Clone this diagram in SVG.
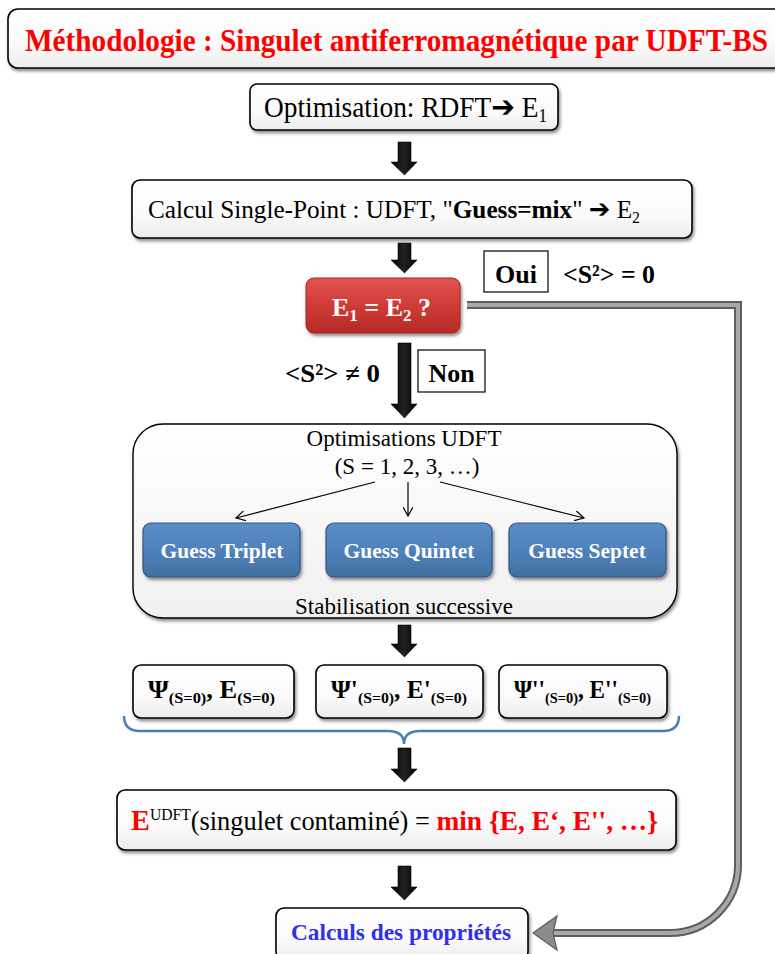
<svg xmlns="http://www.w3.org/2000/svg" width="775" height="954" viewBox="0 0 775 954">
<defs>
<linearGradient id="gW" x1="0" y1="0" x2="0" y2="1"><stop offset="0" stop-color="#ffffff"/><stop offset="0.6" stop-color="#fafafa"/><stop offset="1" stop-color="#ececec"/></linearGradient>
<linearGradient id="gBig" x1="0" y1="0" x2="0" y2="1"><stop offset="0" stop-color="#ffffff"/><stop offset="1" stop-color="#f0f0f0"/></linearGradient>
<linearGradient id="gRed" x1="0" y1="0" x2="0" y2="1"><stop offset="0" stop-color="#e25552"/><stop offset="0.5" stop-color="#cf3b36"/><stop offset="1" stop-color="#b52a26"/></linearGradient>
<linearGradient id="gBlue" x1="0" y1="0" x2="0" y2="1"><stop offset="0" stop-color="#5b8dc9"/><stop offset="0.5" stop-color="#4f81bd"/><stop offset="1" stop-color="#41709f"/></linearGradient>
<linearGradient id="gArr" x1="0" y1="0" x2="1" y2="0"><stop offset="0" stop-color="#000"/><stop offset="0.5" stop-color="#222"/><stop offset="1" stop-color="#000"/></linearGradient>
<filter id="sh" x="-10%" y="-20%" width="120%" height="150%"><feDropShadow dx="1.5" dy="2.5" stdDeviation="1.8" flood-color="#000" flood-opacity="0.45"/></filter>
<style>
.box{fill:url(#gW);stroke:#000;stroke-width:1.6;filter:url(#sh)}
.big{fill:url(#gBig);stroke:#000;stroke-width:1.4;filter:url(#sh)}
.blue{fill:url(#gBlue);stroke:#2f5683;stroke-width:1.2;filter:url(#sh)}
.red{fill:url(#gRed);stroke:#a52521;stroke-width:1;filter:url(#sh)}
.lab{fill:#fff;stroke:#000;stroke-width:1.2}
.blk{fill:url(#gArr);stroke:#000;stroke-width:0.6}
.t{font-family:"Liberation Serif","Times New Roman","DejaVu Serif",serif;fill:#000}
.b{font-weight:bold}
.ar{font-family:"DejaVu Sans",sans-serif;font-weight:bold}
.thin{stroke:#000;stroke-width:1.2;fill:none}
</style>
<marker id="open" viewBox="0 0 10 10" refX="9" refY="5" markerWidth="10" markerHeight="10" orient="auto" markerUnits="userSpaceOnUse"><path d="M0,0 L9,5 L0,10" fill="none" stroke="#000" stroke-width="1.2"/></marker>
</defs>

<g id="title">
<rect x="8" y="9" width="790" height="59" rx="10" class="box"/>
<text x="25" y="51" class="t b" font-size="31" textLength="743" lengthAdjust="spacingAndGlyphs" style="fill:#ff0000">Méthodologie : Singulet antiferromagnétique par UDFT-BS</text>
</g>

<g id="opt">
<rect x="250" y="84" width="308" height="46" rx="7" class="box"/>
<text x="264" y="117" class="t" font-size="29" textLength="283" lengthAdjust="spacingAndGlyphs">Optimisation: RDFT<tspan class="ar" font-size="30">➔</tspan> E<tspan font-size="18" dy="5">1</tspan></text>
</g>

<g id="single">
<rect x="132" y="180" width="560" height="58" rx="8" class="box"/>
<text x="148" y="218" class="t" font-size="25.5" textLength="492" lengthAdjust="spacingAndGlyphs">Calcul Single-Point : UDFT, "<tspan class="b">Guess=mix</tspan>" <tspan class="ar" font-size="26">➔</tspan> E<tspan font-size="16" dy="5">2</tspan></text>
</g>

<g id="decision">
<rect x="306" y="278" width="154" height="55" rx="8" class="red"/>
<text x="381.5" y="316" class="t b" font-size="26" text-anchor="middle" style="fill:#fff">E<tspan font-size="17" dy="5">1</tspan><tspan dy="-5"> = E</tspan><tspan font-size="17" dy="5">2</tspan><tspan dy="-5"> ?</tspan></text>
</g>

<g id="oui">
<rect x="484" y="251" width="64" height="41" class="lab"/>
<text x="516" y="283" class="t b" font-size="26" text-anchor="middle">Oui</text>
<text x="563" y="283" class="t b" font-size="26" textLength="92" lengthAdjust="spacingAndGlyphs">&lt;S²&gt; = 0</text>
</g>

<g id="non">
<rect x="418" y="350" width="67" height="42" class="lab"/>
<text x="451.5" y="382" class="t b" font-size="26" text-anchor="middle">Non</text>
<text x="285" y="382" class="t b" font-size="26" textLength="95" lengthAdjust="spacingAndGlyphs">&lt;S²&gt; ≠ 0</text>
</g>

<g id="optim">
<rect x="133" y="424" width="544" height="194" rx="30" class="big"/>
<text x="404" y="446" class="t" font-size="23" text-anchor="middle">Optimisations UDFT</text>
<text x="407" y="474" class="t" font-size="23" text-anchor="middle">(S = 1, 2, 3, …)</text>
<text x="404" y="614" class="t" font-size="23" text-anchor="middle">Stabilisation successive</text>
</g>

<g id="triplet">
<rect x="143" y="523" width="157" height="54" rx="8" class="blue"/>
<text x="222" y="558" class="t b" font-size="21.5" text-anchor="middle" style="fill:#fff">Guess Triplet</text>
</g>
<g id="quintet">
<rect x="326" y="523" width="166" height="54" rx="8" class="blue"/>
<text x="409" y="558" class="t b" font-size="21.5" text-anchor="middle" style="fill:#fff">Guess Quintet</text>
</g>
<g id="septet">
<rect x="509" y="523" width="157" height="54" rx="8" class="blue"/>
<text x="587" y="558" class="t b" font-size="21.5" text-anchor="middle" style="fill:#fff">Guess Septet</text>
</g>

<g id="psi0">
<rect x="133" y="665" width="161" height="53" rx="8" class="box"/>
<text x="148" y="698" class="t b" font-size="25" textLength="127" lengthAdjust="spacingAndGlyphs">Ψ<tspan font-size="15.5" dy="5">(S=0)</tspan><tspan dy="-5">, E</tspan><tspan font-size="15.5" dy="5">(S=0)</tspan></text>
</g>
<g id="psi1">
<rect x="316" y="665" width="167" height="53" rx="8" class="box"/>
<text x="331" y="698" class="t b" font-size="25" textLength="136" lengthAdjust="spacingAndGlyphs">Ψ'<tspan font-size="15.5" dy="5">(S=0)</tspan><tspan dy="-5">, E'</tspan><tspan font-size="15.5" dy="5">(S=0)</tspan></text>
</g>
<g id="psi2">
<rect x="499" y="665" width="168" height="53" rx="8" class="box"/>
<text x="514" y="698" class="t b" font-size="25" textLength="137" lengthAdjust="spacingAndGlyphs">Ψ''<tspan font-size="15.5" dy="5">(S=0)</tspan><tspan dy="-5">, E''</tspan><tspan font-size="15.5" dy="5">(S=0)</tspan></text>
</g>

<g id="brace">
<path d="M124,716 Q124,731 140,731 H388 Q404,731 404,744 Q404,731 420,731 H663 Q679,731 679,716" fill="none" stroke="#4a7ebb" stroke-width="2.5"/>
</g>

<g id="energy">
<rect x="117" y="790" width="559" height="60" rx="8" class="box"/>
<text x="131" y="830" class="t" font-size="27" textLength="527" lengthAdjust="spacingAndGlyphs"><tspan class="b" font-size="29" style="fill:#ff0000">E</tspan><tspan font-size="16" dy="-10">UDFT</tspan><tspan dy="10">(singulet contaminé) = </tspan><tspan class="b" font-size="28" style="fill:#ff0000">min {E, E‘, E'', …}</tspan></text>
</g>

<g id="props">
<rect x="276" y="908" width="252" height="52" rx="8" class="box"/>
<text x="291" y="940" class="t b" font-size="24" textLength="220" lengthAdjust="spacingAndGlyphs" style="fill:#3030f0">Calculs des propriétés</text>
</g>

<g id="connectors">
<path class="blk" d="M398,142 H411 V162 H417 L404.5,175 L391,162 H398 Z"/>
<path class="blk" d="M398,243 H411 V260 H417 L404.5,273 L391,260 H398 Z"/>
<path class="blk" d="M398,343 H411 V404 H417 L404.5,418 L391,404 H398 Z"/>
<path class="blk" d="M398,625 H411 V644 H417 L404.5,657 L391,644 H398 Z"/>
<path class="blk" d="M398,748 H411 V769 H417 L404.5,782 L391,769 H398 Z"/>
<path class="blk" d="M398,866 H411 V887 H417 L404.5,900 L391,887 H398 Z"/>
<line x1="375" y1="482" x2="236" y2="518" class="thin" marker-end="url(#open)"/>
<line x1="408" y1="482" x2="408" y2="516" class="thin" marker-end="url(#open)"/>
<line x1="440" y1="482" x2="584" y2="518" class="thin" marker-end="url(#open)"/>
<path d="M467,305 H738 V865 A68,68 0 0 1 670,933 H552" fill="none" stroke="#5e5e5e" stroke-width="8"/>
<path d="M467,305 H738 V865 A68,68 0 0 1 670,933 H552" fill="none" stroke="#a8a8a8" stroke-width="4"/>
<path d="M533,933 L557,916 L553,933 L557,950 Z" fill="#8c8c8c" stroke="#5e5e5e" stroke-width="1.2"/>
</g>
</svg>
